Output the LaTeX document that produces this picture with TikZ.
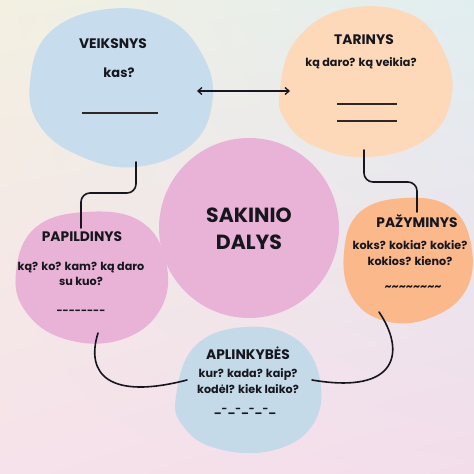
\documentclass[tikz,border=0pt]{standalone}
\usepackage{fontspec}
\setmainfont{Poppins}
\usetikzlibrary{arrows.meta,shadings}
\definecolor{bgul}{HTML}{F3F0E1}
\definecolor{bgur}{HTML}{E1EEF0}
\definecolor{bgll}{HTML}{F6E2EA}
\definecolor{bglr}{HTML}{F3DDEB}
\definecolor{blobblue}{HTML}{C7DCEC}
\definecolor{blobblue2}{HTML}{C5DAE8}
\definecolor{blobpeach}{HTML}{FDD8B9}
\definecolor{bloborange}{HTML}{FBB88B}
\definecolor{blobpink}{HTML}{E8B3D7}
\definecolor{ink}{HTML}{17161E}
\tikzset{
  blob/.style={draw=none},
  title/.style={font=\bfseries\fontsize{13.8}{15}\selectfont, text=ink, inner sep=0pt},
  question/.style={font=\bfseries\fontsize{11.2}{15.5}\selectfont, text=ink, inner sep=0pt, align=center},
  bigtitle/.style={font=\bfseries\fontsize{20.5}{27}\selectfont, text=ink, inner sep=0pt, align=center},
  connector/.style={draw=ink, line width=1.6pt, line cap=round},
  rulemark/.style={inner sep=0pt, text=ink!85!brown}
}
\begin{document}
\begin{tikzpicture}[x=1pt,y=-1pt]
\useasboundingbox (0,0) rectangle (474,474);
\shade[upper left=bgul, upper right=bgur, lower left=bgll, lower right=bglr] (0,0) rectangle (474,474);

% blobs
\fill[blob, blobblue] plot[smooth cycle, tension=0.7] coordinates {(30,82) (50,32) (108,9) (168,19) (204,58) (212,104) (190,146) (135,167) (80,156) (40,126)};
\fill[blob, blobpeach] plot[smooth cycle, tension=0.7] coordinates {(280,90) (296,40) (345,9) (410,14) (444,52) (451,100) (425,140) (368,157) (314,146) (285,120)};
\fill[blob, bloborange] plot[smooth cycle, tension=0.7] coordinates {(344,252) (360,212) (405,198) (450,207) (471,244) (466,290) (430,318) (385,321) (352,297)};
\fill[blob, blobpink] plot[smooth cycle, tension=0.7] coordinates {(16,272) (35,228) (85,212) (140,221) (166,262) (160,310) (120,340) (65,339) (26,312)};
\fill[blob, blobblue2] plot[smooth cycle, tension=0.7] coordinates {(176,396) (195,346) (245,327) (296,339) (320,380) (312,426) (270,451) (215,448) (183,426)};
\fill[blobpink] (249,228) circle[radius=90];

% texts
\node[bigtitle] (center) at (249,229) {SAKINIO\\DALYS};

\node[title] (veiks) at (113,44) {VEIKSNYS};
\node[question, font=\bfseries\fontsize{13}{15}\selectfont] (veiksq) at (119,73) {kas?};
\node[rulemark] (veiksl) at (120,113) {\rule{76pt}{1.1pt}};

\node[title] (tar) at (364,40) {TARINYS};
\node[question] (tarq) at (361,63) {ką daro? ką veikia?};
\node[rulemark] (tarl1) at (367,104) {\rule{60pt}{1.1pt}};
\node[rulemark] (tarl2) at (367,121) {\rule{60pt}{1.1pt}};

\node[title] (paz) at (417,221) {PAŽYMINYS};
\node[question] (pazq) at (410,253) {koks? kokia? kokie?\\kokios? kieno?};
\node[question] (pazl) at (413,288) {\char`\~\char`\~\char`\~\char`\~\char`\~\char`\~\char`\~\char`\~};

\node[title] (pap) at (82,237) {PAPILDINYS};
\node[question] (papq) at (81,274) {ką? ko? kam? ką daro\\su kuo?};
\node[question, font=\bfseries\fontsize{10.5}{15}\selectfont] (papl) at (81,312) {-{}-{}-{}-{}-{}-{}-{}-};

\node[title] (apl) at (248,353) {APLINKYBĖS};
\node[question] (aplq) at (248,381) {kur? kada? kaip?\\kodėl? kiek laiko?};
\node[question, font=\bfseries\fontsize{10}{15}\selectfont] (apll) at (245,411) {\_-\_-\_-\_-\_};

% connector ends
\coordinate (vE) at (197,91);
\coordinate (tW) at (290,91);
\coordinate (vS) at (136,162);
\coordinate (papN) at (81,228);
\coordinate (tS) at (364,150);
\coordinate (pazN) at (417,212);
\coordinate (pazS) at (379,312);
\coordinate (aplE) at (312,380);
\coordinate (papS) at (98,333);
\coordinate (aplW) at (187,380);

\draw[connector, line width=1.3pt, {Straight Barb[length=4pt,width=7pt]}-{Straight Barb[length=4pt,width=7pt]}] (vE) -- (tW);
\draw[connector, rounded corners=9pt] (vS) -- (136,193) -- (81,193) -- (papN);
\draw[connector, rounded corners=9pt] (tS) -- (364,182) -- (417,182) -- (pazN);
\draw[connector] (pazS) .. controls (405,350) and (400,395) .. (aplE);
\draw[connector] (papS) .. controls (85,375) and (110,400) .. (aplW);
\end{tikzpicture}
\end{document}
